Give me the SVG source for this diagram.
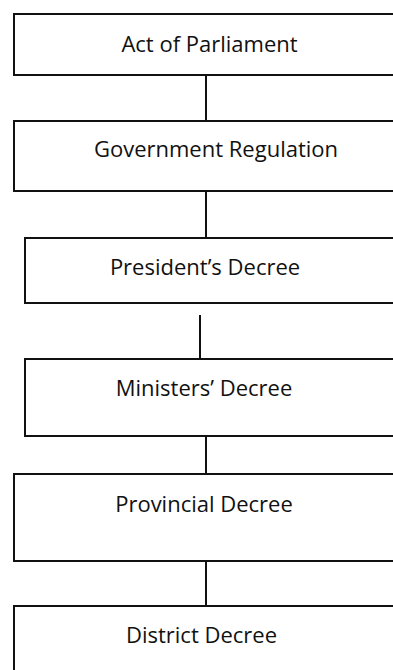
<svg xmlns="http://www.w3.org/2000/svg" width="393" height="670" viewBox="0 0 393 670">
<style>
.box{fill:#fff;stroke:#111;stroke-width:2}
.lbl{font-family:"Open Sans","Noto Sans",sans-serif;font-size:22px;fill:#111;text-anchor:middle}
.conn{stroke:#111;stroke-width:2;fill:none}
</style>
<rect width="393" height="670" fill="#fff"/>
<g id="connectors">
<line class="conn" x1="206" y1="75" x2="206" y2="121"/>
<line class="conn" x1="206" y1="191" x2="206" y2="238"/>
<line class="conn" x1="200" y1="315" x2="200" y2="359"/>
<line class="conn" x1="206" y1="436" x2="206" y2="474"/>
<line class="conn" x1="206" y1="561" x2="206" y2="606"/>
</g>
<g id="act">
<rect class="box" x="14" y="14" width="400" height="61"/>
<text class="lbl" x="209.5" y="52">Act of Parliament</text>
</g>
<g id="govreg">
<rect class="box" x="14" y="121" width="400" height="70"/>
<text class="lbl" x="216" y="157">Government Regulation</text>
</g>
<g id="president">
<rect class="box" x="25" y="238" width="400" height="65"/>
<text class="lbl" x="205" y="275">President’s Decree</text>
</g>
<g id="ministers">
<rect class="box" x="25" y="359" width="400" height="77"/>
<text class="lbl" x="204" y="396">Ministers’ Decree</text>
</g>
<g id="provincial">
<rect class="box" x="14" y="474" width="400" height="87"/>
<text class="lbl" x="204" y="512">Provincial Decree</text>
</g>
<g id="district">
<rect class="box" x="14" y="606" width="400" height="100"/>
<text class="lbl" x="201.5" y="643">District Decree</text>
</g>
</svg>
